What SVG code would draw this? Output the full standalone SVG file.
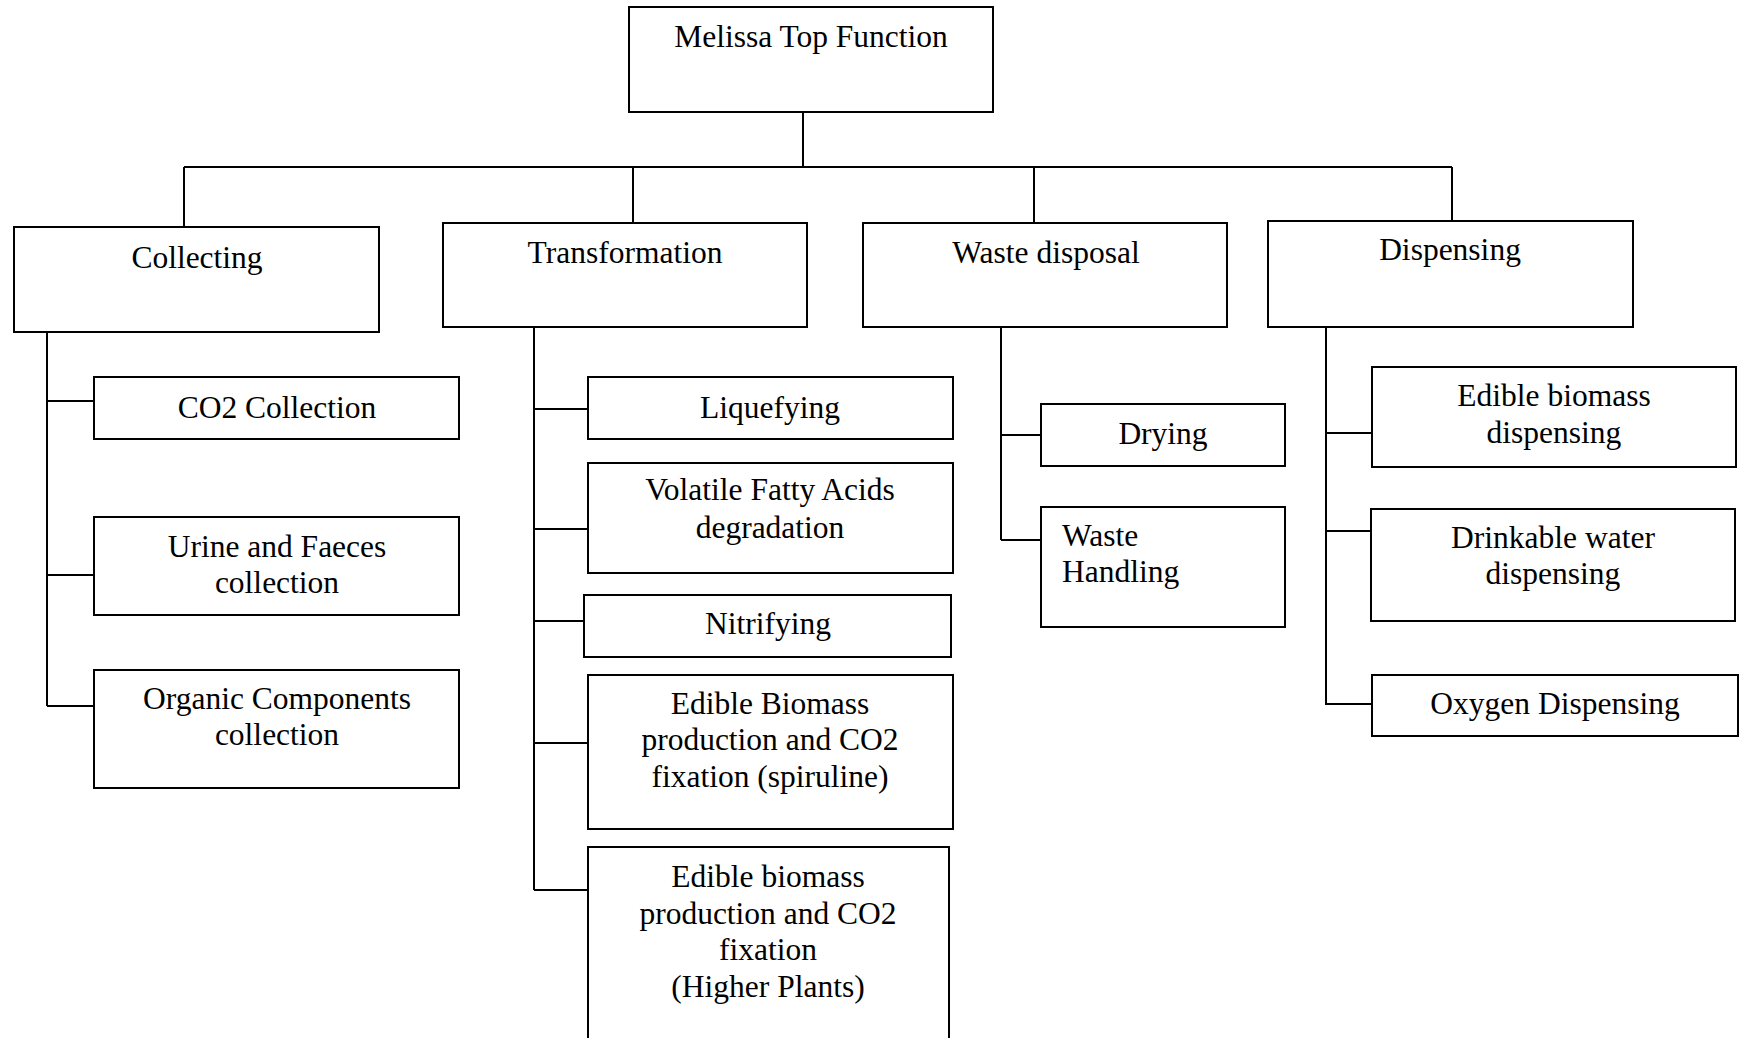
<svg xmlns="http://www.w3.org/2000/svg" width="1742" height="1038" viewBox="0 0 1742 1038">
<style>
rect{fill:#fff;stroke:#000;stroke-width:2}
.c path{fill:none;stroke:#000;stroke-width:2}
text{font-family:"Liberation Serif","Times New Roman",serif;font-size:31.5px;fill:#000;text-anchor:middle}
.l{text-anchor:start}
</style>
<rect x="0" y="0" width="1742" height="1038" style="stroke:none"/>
<g class="c" id="connectors">
<path d="M803 112V167M184 167H1452M184 167V227M633 167V223M1034 167V223M1452 167V221"/>
<path d="M47 332V706M47 401H94M47 575H94M47 706H94"/>
<path d="M534 327V890M534 409H588M534 529H588M534 621H584M534 743H588M534 890H588"/>
<path d="M1001 327V540M1001 435H1041M1001 540H1041"/>
<path d="M1326 327V705M1326 433H1372M1326 531H1371M1326 704H1372"/>
</g>
<g id="top"><rect x="629" y="7" width="364" height="105"/><text x="811" y="47">Melissa Top Function</text></g>
<g id="collecting"><rect x="14" y="227" width="365" height="105"/><text x="197" y="268">Collecting</text></g>
<g id="transformation"><rect x="443" y="223" width="364" height="104"/><text x="625" y="263">Transformation</text></g>
<g id="waste"><rect x="863" y="223" width="364" height="104"/><text x="1046" y="263">Waste disposal</text></g>
<g id="dispensing"><rect x="1268" y="221" width="365" height="106"/><text x="1450" y="260">Dispensing</text></g>
<g id="co2"><rect x="94" y="377" width="365" height="62"/><text x="277" y="418">CO2 Collection</text></g>
<g id="urine"><rect x="94" y="517" width="365" height="98"/><text x="277" y="557">Urine and Faeces</text><text x="277" y="593">collection</text></g>
<g id="organic"><rect x="94" y="670" width="365" height="118"/><text x="277" y="709">Organic Components</text><text x="277" y="745">collection</text></g>
<g id="liquefying"><rect x="588" y="377" width="365" height="62"/><text x="770" y="418">Liquefying</text></g>
<g id="vfa"><rect x="588" y="463" width="365" height="110"/><text x="770" y="500">Volatile Fatty Acids</text><text x="770" y="538">degradation</text></g>
<g id="nitrifying"><rect x="584" y="595" width="367" height="62"/><text x="768" y="634">Nitrifying</text></g>
<g id="spiruline"><rect x="588" y="675" width="365" height="154"/><text x="770" y="714">Edible Biomass</text><text x="770" y="750">production and CO2</text><text x="770" y="787">fixation (spiruline)</text></g>
<g id="higherplants"><rect x="588" y="847" width="361" height="200"/><text x="768" y="887">Edible biomass</text><text x="768" y="924">production and CO2</text><text x="768" y="960">fixation</text><text x="768" y="997">(Higher Plants)</text></g>
<g id="drying"><rect x="1041" y="404" width="244" height="62"/><text x="1163" y="444">Drying</text></g>
<g id="wastehandling"><rect x="1041" y="507" width="244" height="120"/><text class="l" x="1062" y="546">Waste</text><text class="l" x="1062" y="582">Handling</text></g>
<g id="ediblebiomassdisp"><rect x="1372" y="367" width="364" height="100"/><text x="1554" y="406">Edible biomass</text><text x="1554" y="443">dispensing</text></g>
<g id="drinkable"><rect x="1371" y="509" width="364" height="112"/><text x="1553" y="548">Drinkable water</text><text x="1553" y="584">dispensing</text></g>
<g id="oxygen"><rect x="1372" y="675" width="366" height="61"/><text x="1555" y="714">Oxygen Dispensing</text></g>
</svg>
